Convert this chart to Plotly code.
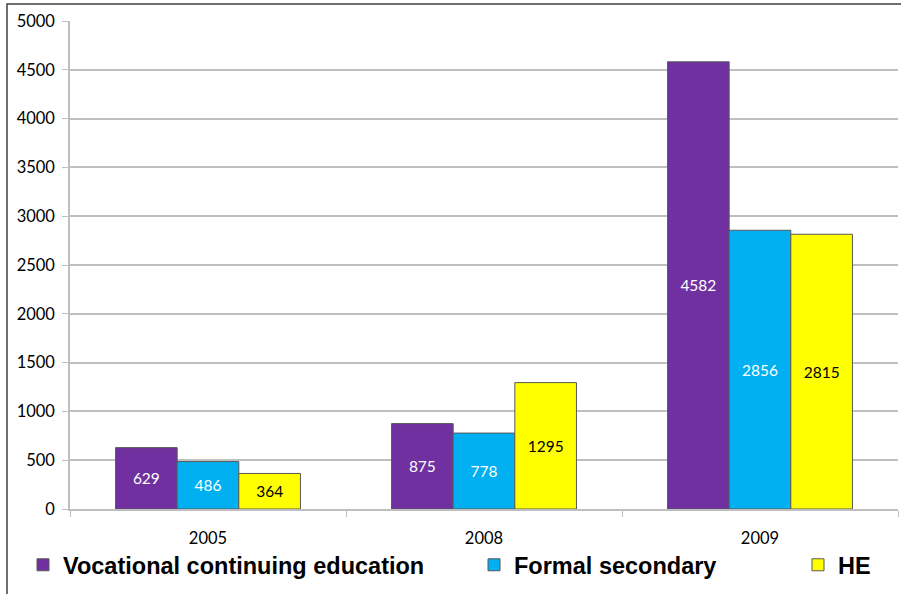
import plotly.graph_objects as go

# Enrolment figures by year and type of education
years = ["2005", "2008", "2009"]
vocational = [629, 875, 4582]
formal_secondary = [486, 778, 2856]
higher_ed = [364, 1295, 2815]

series_names = ["Vocational continuing education", "Formal secondary", "HE"]
series_values = [vocational, formal_secondary, higher_ed]
fill_colors = ["#7030A0", "#00B0F0", "#FFFF00"]
label_colors = ["white", "white", "black"]
legend_ids = ["legend", "legend2", "legend3"]

W, H = 901, 594
ML, MR, MT, MB = 70, 3, 21, 85
plot_w = W - ML - MR
plot_h = H - MT - MB


def px_x(p):
    return (p - ML) / plot_w


def px_y(p):
    return (H - MB - p) / plot_h


fig = go.Figure()
for name, vals, col, tcol, lg in zip(series_names, series_values, fill_colors, label_colors, legend_ids):
    fig.add_trace(go.Bar(
        x=years,
        y=vals,
        name=name,
        marker=dict(color=col, line=dict(color="#595959", width=1)),
        text=[str(v) for v in vals],
        textposition="inside",
        insidetextanchor="middle",
        textangle=0,
        insidetextfont=dict(family="Lato, Open Sans, sans-serif", size=15.5, color=tcol),
        legend=lg,
        hoverinfo="skip",
    ))

legend_font = dict(family="Liberation Sans, Arial, sans-serif", size=23.5, color="black", weight="bold")
legend_pos = [23, 474, 798]
legend_cfg = {}
for lg, xp in zip(legend_ids, legend_pos):
    legend_cfg[lg] = dict(
        x=px_x(xp), y=px_y(565), xanchor="left", yanchor="middle",
        orientation="h", font=legend_font, bgcolor="rgba(0,0,0,0)",
        borderwidth=0,
    )

fig.update_layout(
    width=W, height=H,
    margin=dict(l=ML, r=MR, t=MT, b=MB),
    paper_bgcolor="white",
    plot_bgcolor="white",
    barmode="group",
    bargap=0.33,
    bargroupgap=0,
    showlegend=True,
    **legend_cfg,
    xaxis=dict(
        type="category",
        showline=True, linecolor="#BFBFBF", linewidth=1.5,
        ticks="outside", tickson="boundaries", ticklen=6, tickcolor="#BFBFBF",
        tickfont=dict(family="Lato, Open Sans, sans-serif", size=16.5, color="black"),
        ticklabelstandoff=13,
        showgrid=False,
    ),
    yaxis=dict(
        range=[0, 5000], dtick=500, tick0=0,
        showline=True, linecolor="#BFBFBF", linewidth=1.5,
        ticks="outside", ticklen=6, tickcolor="#BFBFBF",
        tickfont=dict(family="Lato, Open Sans, sans-serif", size=16.5, color="black"),
        ticklabelstandoff=4,
        showgrid=True, gridcolor="#BFBFBF", gridwidth=1.5,
        zeroline=False,
    ),
    shapes=[dict(
        type="rect", xref="paper", yref="paper",
        x0=px_x(7), x1=px_x(905), y0=px_y(600), y1=px_y(4),
        line=dict(color="#404040", width=1.5), fillcolor="rgba(0,0,0,0)",
        layer="below",
    )],
)

fig.write_html("out.html")
